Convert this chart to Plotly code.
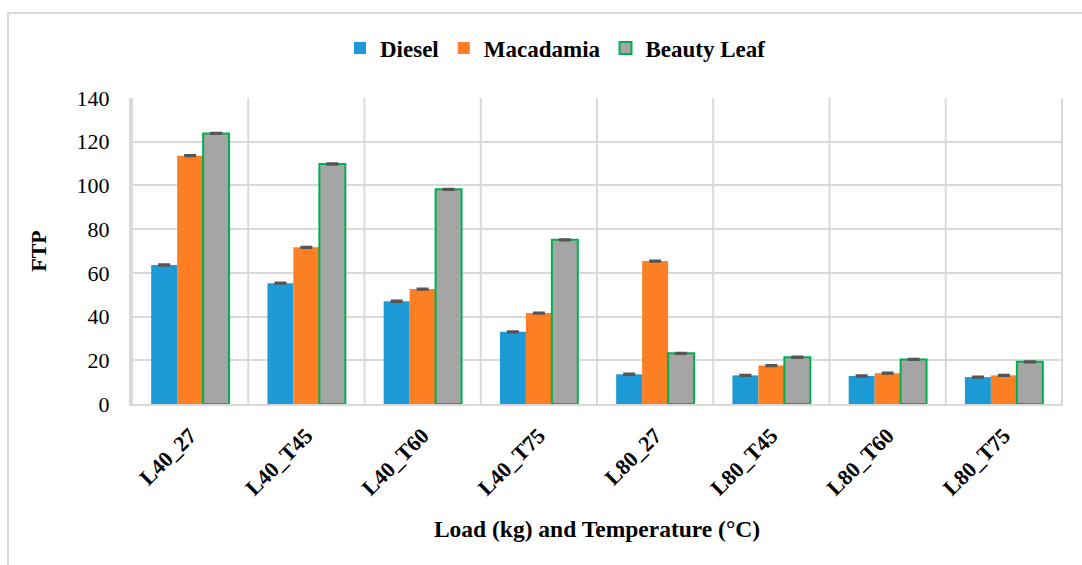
import plotly.graph_objects as go

categories = ["L40_27", "L40_T45", "L40_T60", "L40_T75", "L80_27", "L80_T45", "L80_T60", "L80_T75"]
diesel = [63.6, 55.3, 47.0, 33.0, 13.6, 13.1, 12.8, 12.3]
macadamia = [113.6, 71.7, 52.6, 41.6, 65.4, 17.6, 14.1, 13.1]
beauty_leaf = [123.8, 109.8, 98.2, 75.1, 23.2, 21.4, 20.4, 19.3]
err_diesel = [0.3] * 8
err_macadamia = [0.3] * 8
err_beauty = [0.3] * 8

FONT = "Liberation Serif, Times New Roman, serif"

fig = go.Figure()
err_style = dict(type="data", visible=True, color="#555555", thickness=2, width=6)
fig.add_trace(go.Bar(name="<b>Diesel</b>", x=categories, y=diesel,
                     marker=dict(color="#1C9AD6", line=dict(width=0)),
                     error_y=dict(array=err_diesel, **err_style)))
fig.add_trace(go.Bar(name="<b>Macadamia</b>", x=categories, y=macadamia,
                     marker=dict(color="#FD7F24", line=dict(width=0)),
                     error_y=dict(array=err_macadamia, **err_style)))
fig.add_trace(go.Bar(name="<b>Beauty Leaf</b>", x=categories, y=beauty_leaf,
                     marker=dict(color="#A5A5A5", line=dict(color="#00B050", width=2)),
                     error_y=dict(array=err_beauty, **err_style)))

L, R, T, B = 131, 19, 98, 161
W, H = 1082, 565
pw, ph = W - L - R, H - T - B

fig.update_layout(
    width=W, height=H,
    margin=dict(l=L, r=R, t=T, b=B),
    paper_bgcolor="white", plot_bgcolor="white",
    barmode="group", bargap=0.33, bargroupgap=0,
    font=dict(family=FONT, color="black"),
    legend=dict(orientation="h", x=(340 - L) / pw, xanchor="left", y=1 + (T - 48) / ph, yanchor="middle",
                font=dict(family=FONT, size=23, color="black"),
                itemwidth=30, traceorder="normal"),
    xaxis=dict(
        tickangle=-45, tickfont=dict(family=FONT, size=22, color="black"),
        tickmode="array", tickvals=categories, ticktext=["<b>%s</b>" % c for c in categories],
        showgrid=False, ticklabelstandoff=8,
        showline=True, linecolor="#D9D9D9", linewidth=2, mirror=False,
        ticks="", title=dict(text="<b>Load (kg) and Temperature (°C)</b>",
                             font=dict(family=FONT, size=23.5, color="black"), standoff=21),
    ),
    yaxis=dict(
        range=[0, 140], dtick=20,
        tickfont=dict(family=FONT, size=22, color="black"),
        ticklabelstandoff=15,
        showgrid=True, gridcolor="#D9D9D9", gridwidth=2,
        zeroline=False, showline=True, linecolor="#D9D9D9", linewidth=2,
        ticks="", title=dict(text="<b>FTP</b>", font=dict(family=FONT, size=22, color="black"), standoff=24),
    ),
    shapes=[
        *[dict(type="line", xref="x", yref="paper", x0=i - 0.5, x1=i - 0.5, y0=0, y1=1,
               line=dict(color="#D9D9D9", width=2), layer="below") for i in range(len(categories) + 1)],
        dict(type="rect", xref="paper", yref="paper",
             x0=(8 - L) / pw, x1=(W + 20 - L) / pw,
             y0=(T + ph - (H + 20)) / ph, y1=(T + ph - 13) / ph,
             line=dict(color="#D9D9D9", width=2), fillcolor="rgba(0,0,0,0)"),
    ],
)

fig.write_html("out.html")
